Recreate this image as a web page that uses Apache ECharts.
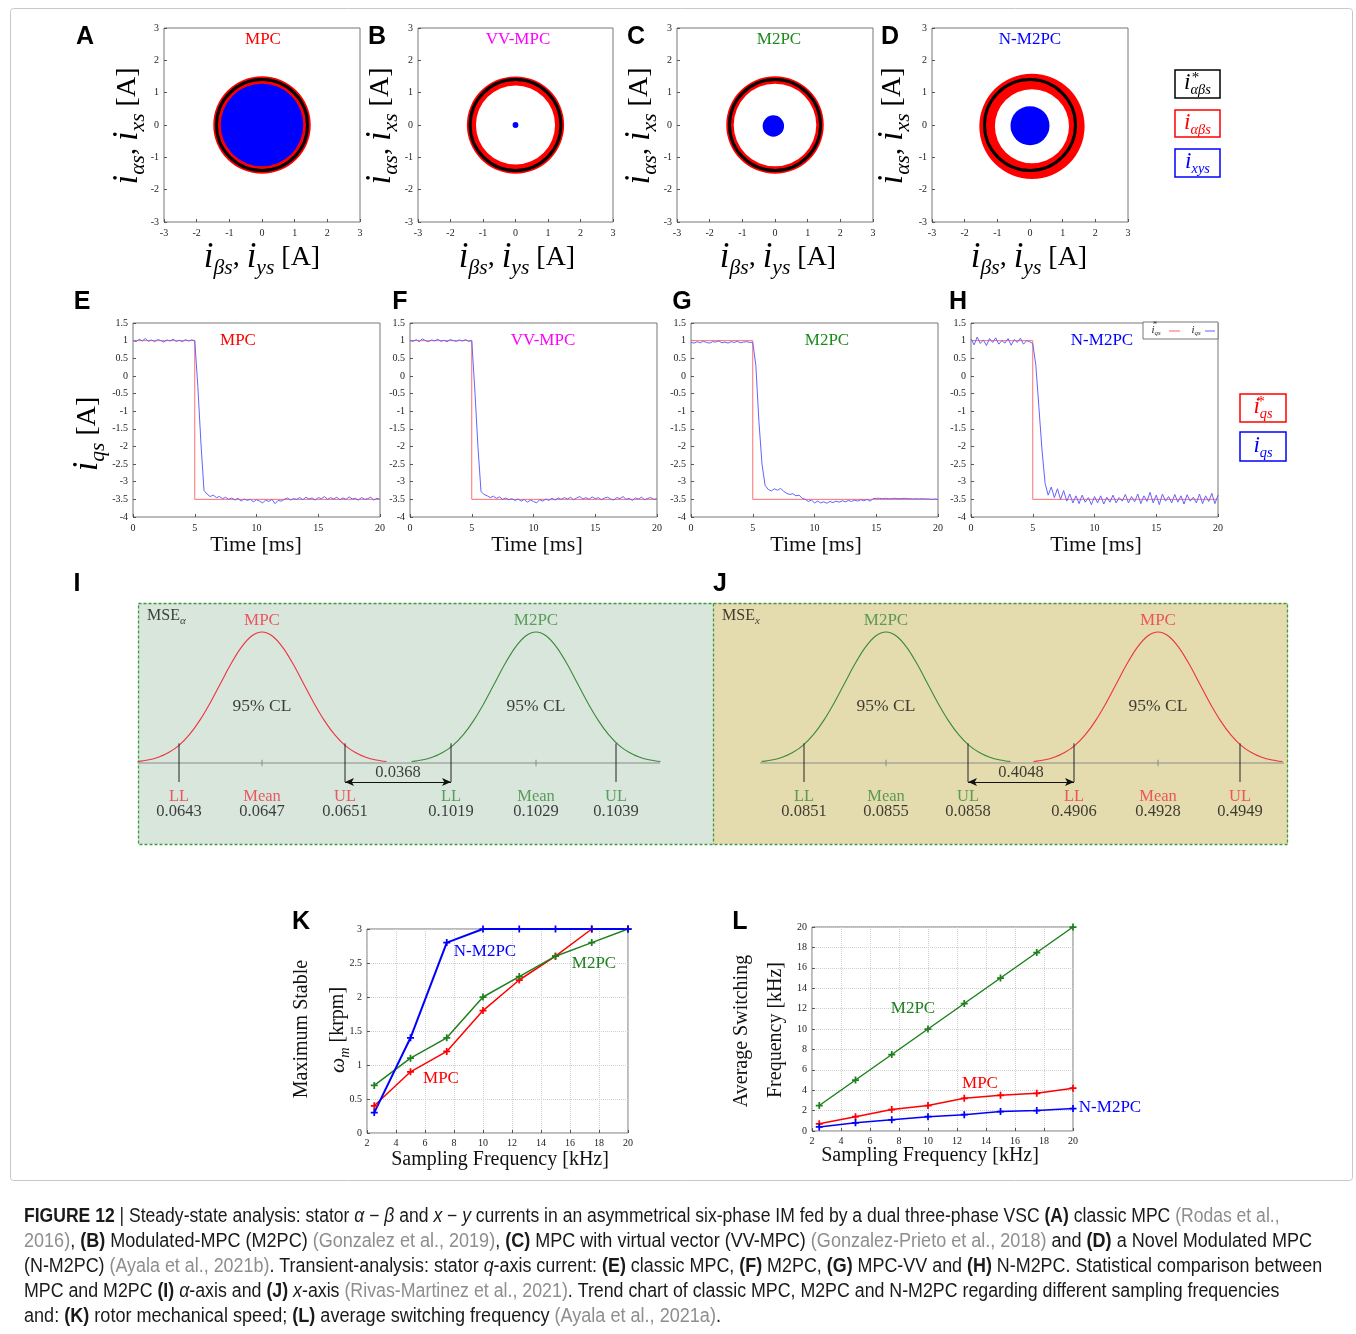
<!DOCTYPE html>
<html>
<head>
<meta charset="utf-8">
<script src="https://cdn.jsdelivr.net/npm/echarts@6/dist/echarts.min.js"></script>
<style>
html, body {margin: 0; padding: 0; background: #fff;}
#main {width: 1356px; height: 1334px;}
</style>
</head>
<body>
<div id="main"></div>
<script>
var SERIF = 'Liberation Serif', SANS = 'Liberation Sans';
var RED = '#ff0000', MAG = '#ff00ff', GRN = '#1a8a1a', BLU = '#0000ff';

// ---- A-D: steady state currents (values in A)
var topMethods = ['MPC', 'VV-MPC', 'M2PC', 'N-M2PC'];
var refRadius = 1.4;
// measured i_ab band: [cx, cy, inner radius, outer radius]
var abBand = [[0, 0, 1.24, 1.5], [0, 0, 1.22, 1.5], [0, 0, 1.27, 1.5], [0.06, -0.04, 1.14, 1.62]];
// measured i_xy cloud: [cx, cy, radius]
var xyBlob = [[0, 0, 1.27], [0, 0, 0.09], [-0.05, -0.03, 0.33], [0, -0.02, 0.6]];

// ---- E-H: q-axis current transient (ms, A)
var tMs = [0,0.25,0.5,0.75,1,1.25,1.5,1.75,2,2.25,2.5,2.75,3,3.25,3.5,3.75,4,4.25,4.5,4.75,
  5,5.25,5.5,5.75,6,6.25,6.5,6.75,7,7.25,7.5,7.75,8,8.25,8.5,8.75,9,9.25,9.5,9.75,10,
  10.25,10.5,10.75,11,11.25,11.5,11.75,12,12.25,12.5,12.75,13,13.25,13.5,13.75,14,
  14.25,14.5,14.75,15,15.25,15.5,15.75,16,16.25,16.5,16.75,17,17.25,17.5,17.75,18,
  18.25,18.5,18.75,19,19.25,19.5,19.75,20];
var refT = [0, 5, 5, 20];
var refIqs = [1, 1, -3.5, -3.5];
var iqsMPC = [1.0,0.97,1.04,0.99,1.06,0.98,1.02,0.97,1.03,1.0,0.96,1.02,0.99,1.04,0.98,1.01,0.97,1.03,0.99,1.02,
  1.0,-0.3,-1.9,-3.25,-3.35,-3.42,-3.38,-3.45,-3.42,-3.48,-3.44,-3.5,-3.46,
  -3.52,-3.47,-3.55,-3.49,-3.53,-3.5,-3.57,-3.51,-3.55,-3.6,-3.52,-3.56,-3.5,-3.62,-3.53,-3.55,
  -3.5,-3.46,-3.52,-3.48,-3.5,-3.45,-3.51,-3.44,-3.49,-3.46,-3.52,-3.45,-3.48,-3.42,-3.5,-3.45,
  -3.49,-3.44,-3.51,-3.46,-3.5,-3.43,-3.49,-3.47,-3.52,-3.45,-3.5,-3.48,-3.44,-3.52,-3.47,-3.5];
var iqsVVMPC = [1.0,0.98,1.03,0.97,1.05,1.0,0.97,1.02,0.99,1.04,0.98,1.01,0.97,1.03,1.0,0.98,1.02,0.99,1.03,0.98,
  1.0,-0.4,-2.0,-3.28,-3.36,-3.4,-3.45,-3.41,-3.47,-3.43,-3.5,-3.46,-3.51,
  -3.48,-3.53,-3.49,-3.55,-3.5,-3.58,-3.52,-3.56,-3.6,-3.51,-3.55,-3.49,-3.53,-3.47,-3.52,-3.46,
  -3.5,-3.45,-3.49,-3.44,-3.51,-3.46,-3.42,-3.49,-3.45,-3.5,-3.43,-3.48,-3.45,-3.51,-3.46,-3.44,
  -3.49,-3.52,-3.45,-3.48,-3.42,-3.5,-3.47,-3.53,-3.46,-3.49,-3.44,-3.51,-3.47,-3.45,-3.5,-3.48];
var iqsM2PC = [0.95,0.93,0.97,0.94,0.98,0.95,0.93,0.97,0.96,0.99,0.94,0.96,0.93,0.97,0.95,0.98,0.94,0.96,0.97,0.95,
  0.95,0.3,-1.3,-2.5,-3.1,-3.22,-3.26,-3.2,-3.24,-3.19,-3.27,-3.33,-3.36,
  -3.34,-3.4,-3.38,-3.47,-3.5,-3.56,-3.52,-3.6,-3.55,-3.6,-3.57,-3.61,-3.56,-3.59,-3.55,-3.58,
  -3.54,-3.57,-3.53,-3.56,-3.52,-3.55,-3.51,-3.54,-3.5,-3.55,-3.48,-3.47,-3.47,-3.48,-3.47,-3.48,
  -3.48,-3.47,-3.48,-3.48,-3.47,-3.48,-3.48,-3.49,-3.48,-3.49,-3.48,-3.49,-3.49,-3.5,-3.49,-3.5];
var iqsNM2PC = [1.05,0.88,1.1,0.92,1.02,0.86,1.06,0.95,1.08,0.9,1.0,0.93,1.06,0.87,1.03,0.95,1.07,0.9,1.0,0.97,
  0.92,0.3,-0.9,-2.1,-3.05,-3.38,-3.15,-3.45,-3.2,-3.5,-3.25,-3.55,-3.35,
  -3.6,-3.4,-3.62,-3.38,-3.58,-3.45,-3.65,-3.42,-3.6,-3.4,-3.63,-3.44,-3.58,-3.38,-3.6,-3.45,
  -3.55,-3.36,-3.6,-3.42,-3.57,-3.35,-3.62,-3.4,-3.56,-3.3,-3.6,-3.38,-3.65,-3.35,-3.55,-3.42,
  -3.6,-3.36,-3.58,-3.4,-3.63,-3.37,-3.55,-3.44,-3.6,-3.35,-3.62,-3.4,-3.56,-3.33,-3.62,-3.38];

// ---- I-J: statistical comparison (schematic positions along the panel)
var bellOff = [-3,-2.75,-2.5,-2.25,-2,-1.75,-1.5,-1.25,-1,-0.75,-0.5,-0.25,0,0.25,0.5,0.75,1,1.25,1.5,1.75,2,2.25,2.5,2.75,3];
var bellH = [0.011,0.023,0.044,0.08,0.135,0.216,0.325,0.458,0.607,0.755,0.882,0.969,1,0.969,0.882,0.755,0.607,0.458,0.325,0.216,0.135,0.08,0.044,0.023,0.011];
var bellSpread = 41.5;
var limitTags = ['LL', 'Mean', 'UL'];
var alphaMethods = ['MPC', 'M2PC'];
var alphaMean = [124, 398];
var alphaLimits = [[41, 207], [313, 478]];
var alphaVals = [['0.0643', '0.0647', '0.0651'], ['0.1019', '0.1029', '0.1039']];
var alphaGap = '0.0368';
var xMethods = ['M2PC', 'MPC'];
var xMean = [173, 445];
var xLimits = [[91, 255], [361, 527]];
var xVals = [['0.0851', '0.0855', '0.0858'], ['0.4906', '0.4928', '0.4949']];
var xGap = '0.4048';

// ---- K-L: sampling frequency trends (kHz)
var fs = [2.5, 5, 7.5, 10, 12.5, 15, 17.5, 20];
var speedMPC = [0.4, 0.9, 1.2, 1.8, 2.25, 2.6, 3.0, 3.0];
var speedM2PC = [0.7, 1.1, 1.4, 2.0, 2.3, 2.6, 2.8, 3.0];
var speedNM2PC = [0.3, 1.4, 2.8, 3.0, 3.0, 3.0, 3.0, 3.0];
var fswMPC = [0.7, 1.4, 2.1, 2.5, 3.2, 3.5, 3.7, 4.2];
var fswM2PC = [2.5, 5, 7.5, 10, 12.5, 15, 17.5, 20];
var fswNM2PC = [0.4, 0.8, 1.1, 1.4, 1.6, 1.9, 2.0, 2.2];

var captionLines = [
  '{b|FIGURE 12} | Steady-state analysis: stator {i|α} − {i|β} and {i|x} − {i|y} currents in an asymmetrical six-phase IM fed by a dual three-phase VSC {b|(A)} classic MPC {g|(Rodas et al.,}',
  '{g|2016)}, {b|(B)} Modulated-MPC (M2PC) {g|(Gonzalez et al., 2019)}, {b|(C)} MPC with virtual vector (VV-MPC) {g|(Gonzalez-Prieto et al., 2018)} and {b|(D)} a Novel Modulated MPC',
  '(N-M2PC) {g|(Ayala et al., 2021b)}. Transient-analysis: stator {i|q}-axis current: {b|(E)} classic MPC, {b|(F)} M2PC, {b|(G)} MPC-VV and {b|(H)} N-M2PC. Statistical comparison between',
  'MPC and M2PC {b|(I)} {i|α}-axis and {b|(J)} {i|x}-axis {g|(Rivas-Martinez et al., 2021)}. Trend chart of classic MPC, M2PC and N-M2PC regarding different sampling frequencies',
  'and: {b|(K)} rotor mechanical speed; {b|(L)} average switching frequency {g|(Ayala et al., 2021a)}.'
];

// ------------------------------------------------------------------
var grids = [
  {left: 164, top: 28, width: 196, height: 194},
  {left: 418, top: 28, width: 195, height: 194},
  {left: 677, top: 28, width: 196, height: 194},
  {left: 932, top: 28, width: 196, height: 194},
  {left: 133, top: 323, width: 247, height: 194},
  {left: 410, top: 323, width: 247, height: 194},
  {left: 691, top: 323, width: 247, height: 194},
  {left: 971, top: 323, width: 247, height: 194},
  {left: 138, top: 603, width: 575, height: 241},
  {left: 713, top: 603, width: 575, height: 241},
  {left: 367, top: 929, width: 261, height: 204},
  {left: 812, top: 927, width: 261, height: 204}
];
grids.forEach(function (g, i) {
  g.show = true;
  g.borderColor = '#777';
  g.borderWidth = 1;
  if (i === 8) { g.backgroundColor = '#d9e6dc'; g.borderWidth = 0; }
  if (i === 9) { g.backgroundColor = '#e4dcae'; g.borderWidth = 0; }
});

var xAxes = [], yAxes = [];
function frameAxis(gi, min, max, step, margin, grid) {
  return {
    type: 'value', gridIndex: gi, min: min, max: max, interval: step,
    axisLine: {show: false, onZero: false},
    axisTick: {show: true, inside: true, length: 3, lineStyle: {color: '#555'}},
    axisLabel: {fontFamily: SERIF, fontSize: 10, color: '#222', margin: margin},
    splitLine: {show: !!grid, lineStyle: {color: '#cfcfcf', type: 'dotted'}}
  };
}
for (var k = 0; k < 4; k++) {
  xAxes.push(frameAxis(k, -3, 3, 1, 6));
  yAxes.push(frameAxis(k, -3, 3, 1, 5));
}
for (k = 4; k < 8; k++) {
  xAxes.push(frameAxis(k, 0, 20, 5, 6));
  yAxes.push(frameAxis(k, -4, 1.5, 0.5, 5));
}
for (k = 8; k < 10; k++) {
  xAxes.push({type: 'value', gridIndex: k, min: 0, max: 575, show: false});
  yAxes.push({type: 'value', gridIndex: k, min: -0.618, max: 1.221, show: false});
}
xAxes.push(frameAxis(10, 2, 20, 2, 5, true));
yAxes.push(frameAxis(10, 0, 3, 0.5, 5, true));
xAxes.push(frameAxis(11, 2, 20, 2, 5, true));
yAxes.push(frameAxis(11, 0, 20, 2, 5, true));

// ------------------------------------------------------------------
function ringRender(color) {
  return function (params, api) {
    var c = api.coord([api.value(0), api.value(1)]);
    var a = api.size([api.value(2), api.value(2)]);
    var b = api.size([api.value(3), api.value(3)]);
    return {type: 'ring', shape: {cx: c[0], cy: c[1], r0: (a[0] + a[1]) / 2, r: (b[0] + b[1]) / 2},
      style: {fill: color}};
  };
}
function discRender(fill, stroke, lw) {
  return function (params, api) {
    var c = api.coord([api.value(0), api.value(1)]);
    var a = api.size([api.value(2), api.value(2)]);
    return {type: 'circle', shape: {cx: c[0], cy: c[1], r: (a[0] + a[1]) / 2},
      style: {fill: fill, stroke: stroke || null, lineWidth: lw || 0}};
  };
}
function vlineRender(color) {
  return function (params, api) {
    var p0 = api.coord([api.value(0), api.value(1)]);
    var p1 = api.coord([api.value(0), api.value(2)]);
    return {type: 'line', shape: {x1: p0[0], y1: p0[1], x2: p1[0], y2: p1[1]},
      style: {stroke: color, lineWidth: 1}};
  };
}
function pairs(xs, ys) { return xs.map(function (x, i) { return [x, ys[i]]; }); }

var series = [];
for (k = 0; k < 4; k++) {
  series.push({type: 'custom', xAxisIndex: k, yAxisIndex: k, silent: true, z: 2,
    data: [abBand[k]], renderItem: ringRender(RED)});
  series.push({type: 'custom', xAxisIndex: k, yAxisIndex: k, silent: true, z: 3,
    data: [xyBlob[k]], renderItem: discRender(BLU)});
  series.push({type: 'custom', xAxisIndex: k, yAxisIndex: k, silent: true, z: 4,
    data: [[0, 0, refRadius]], renderItem: discRender('none', '#000', 3)});
}

var iqsAll = [iqsMPC, iqsVVMPC, iqsM2PC, iqsNM2PC];
for (k = 0; k < 4; k++) {
  series.push({type: 'line', xAxisIndex: 4 + k, yAxisIndex: 4 + k, symbol: 'none', silent: true,
    data: pairs(refT, refIqs), lineStyle: {color: '#ff7070', width: 1}});
  series.push({type: 'line', xAxisIndex: 4 + k, yAxisIndex: 4 + k, symbol: 'none', silent: true,
    data: pairs(tMs, iqsAll[k]), lineStyle: {color: '#6363ff', width: 1}});
}

function textSeries(gi, pts, texts, label) {
  var lab = {show: true, position: 'inside', fontFamily: SERIF, fontSize: 16.5, color: '#111',
    formatter: function (p) { return texts[p.dataIndex]; }};
  for (var key in label) lab[key] = label[key];
  return {type: 'scatter', xAxisIndex: gi, yAxisIndex: gi, symbolSize: 0, silent: true, z: 6,
    data: pts, label: lab, labelLayout: {hideOverlap: false}};
}

function statPanel(gi, methods, means, limits, vals, gap, colors, msePart, baseRange) {
  series.push({type: 'line', xAxisIndex: gi, yAxisIndex: gi, symbol: 'none', silent: true,
    data: [[baseRange[0], 0], [baseRange[1], 0]], lineStyle: {color: '#8a8a8a', width: 1}});
  for (var m = 0; m < 2; m++) {
    var c = means[m];
    series.push({type: 'line', xAxisIndex: gi, yAxisIndex: gi, symbol: 'none', silent: true, smooth: 0.3,
      data: bellOff.map(function (o, i) { return [c + o * bellSpread, bellH[i]]; }),
      lineStyle: {color: colors[m], width: 1.1}});
    series.push({type: 'custom', xAxisIndex: gi, yAxisIndex: gi, silent: true, z: 4,
      data: [[limits[m][0], 0.15, -0.145], [limits[m][1], 0.15, -0.145]], renderItem: vlineRender('#222')});
    series.push({type: 'custom', xAxisIndex: gi, yAxisIndex: gi, silent: true, z: 4,
      data: [[c, 0.025, -0.025]], renderItem: vlineRender('#8a8a8a')});
    var pos = [limits[m][0], c, limits[m][1]];
    series.push(textSeries(gi, pos.map(function (x) { return [x, -0.317]; }),
      limitTags.map(function (t, i) { return '{c|' + t + '}\n{v|' + vals[m][i] + '}'; }),
      {lineHeight: 15, rich: {c: {color: colors[m], fontFamily: SERIF, fontSize: 16.5, lineHeight: 15},
        v: {color: '#111', fontFamily: SERIF, fontSize: 16.5, lineHeight: 15}}}));
    series.push(textSeries(gi, [[c, 1.09]], [methods[m]], {color: colors[m], fontSize: 17}));
    series.push(textSeries(gi, [[c, 0.435]], ['95% CL'], {fontSize: 17.5}));
  }
  var a = limits[0][1], b = limits[1][0];
  var gs = textSeries(gi, [[(a + b) / 2, -0.075]], [gap], {});
  gs.markLine = {silent: true, symbol: ['arrow', 'arrow'], symbolSize: [6, 9],
    lineStyle: {color: '#111', type: 'solid', width: 1}, label: {show: false},
    data: [[{coord: [a, -0.145]}, {coord: [b, -0.145]}]]};
  series.push(gs);
  series.push(textSeries(gi, [[9, 1.12]], ['{m|MSE}{s|' + msePart + '}'], {position: 'right', distance: 0,
    rich: {m: {fontFamily: SERIF, fontSize: 16, color: '#111', lineHeight: 20, verticalAlign: 'middle'},
      s: {fontFamily: SERIF, fontStyle: 'italic', fontSize: 11, color: '#111', lineHeight: 10, verticalAlign: 'bottom'}}}));
}
statPanel(8, alphaMethods, alphaMean, alphaLimits, alphaVals, alphaGap, ['#ee3340', '#3a8a3a'], 'α', [1, 522]);
statPanel(9, xMethods, xMean, xLimits, xVals, xGap, ['#3a8a3a', '#ee3340'], 'x', [47, 571]);

var plus = 'path://M3,0h2v3h3v2h-3v3h-2v-3h-3v-2h3z';
function trend(gi, ys, color, w) {
  series.push({type: 'line', xAxisIndex: gi, yAxisIndex: gi, symbol: plus, symbolSize: 7, silent: true,
    data: pairs(fs, ys), lineStyle: {color: color, width: w}, itemStyle: {color: color}});
}
trend(10, speedMPC, RED, 1.5);
trend(10, speedM2PC, '#1f801f', 1.5);
trend(10, speedNM2PC, BLU, 2);
trend(11, fswMPC, RED, 1.5);
trend(11, fswNM2PC, BLU, 1.5);
trend(11, fswM2PC, '#1f801f', 1.5);

// ------------------------------------------------------------------
function mathRich(color, s, n) {
  s = s || 1;
  var nf = n || 25 * s;
  return {
    i: {fontFamily: SERIF, fontStyle: 'italic', fontSize: 29 * s, lineHeight: 36 * s, verticalAlign: 'middle', fill: color, color: color},
    s: {fontFamily: SERIF, fontStyle: 'italic', fontSize: 18 * s, lineHeight: 18 * s, verticalAlign: 'bottom', fill: color, color: color},
    n: {fontFamily: SERIF, fontSize: nf, lineHeight: 36 * s, verticalAlign: 'middle', fill: color, color: color},
    w: {fontFamily: SERIF, fontStyle: 'italic', fontSize: 27 * s, lineHeight: 36 * s, verticalAlign: 'middle', fill: color, color: color}
  };
}
var gfx = [];
function txt(x, y, text, font, color, opt) {
  var el = {type: 'text', x: x, y: y, z: 100, silent: true,
    style: {text: text, font: font, fill: color || '#000', textAlign: 'center', textVerticalAlign: 'middle',
      align: 'center', verticalAlign: 'middle'}};
  if (opt) {
    if (opt.rotation) el.rotation = opt.rotation;
    if (opt.rich) el.style.rich = opt.rich;
    if (opt.align) { el.style.textAlign = opt.align; el.style.align = opt.align; }
    if (opt.scaleX) el.scaleX = opt.scaleX;
  }
  gfx.push(el);
}
var letterFont = 'bold 25px "' + SANS + '"';
[['A', 85, 37], ['B', 377, 37], ['C', 636, 37], ['D', 890, 37], ['E', 82, 302], ['F', 400, 302],
 ['G', 682, 302], ['H', 958, 302], ['I', 77, 584], ['J', 720, 584], ['K', 301, 922], ['L', 740, 922]]
  .forEach(function (l) { txt(l[1], l[2], l[0], letterFont, '#000'); });

var topColors = [RED, MAG, GRN, BLU];
var topX = [263, 518, 779, 1030];
var yNameX = [128, 381, 640, 893];
var trX = [238, 543, 827, 1102];
var timeX = [256, 537, 816, 1096];
var nameRich = mathRich('#000', 1.2, 28);
for (k = 0; k < 4; k++) {
  txt(topX[k], 40, topMethods[k], '17px "' + SERIF + '"', topColors[k]);
  txt(yNameX[k], 126, '{i|i}{s|αs}{n|, }{i|i}{s|xs}{n| [A]}', '25px "' + SERIF + '"', '#000',
    {rotation: Math.PI / 2, rich: nameRich});
  txt(topX[k] - 1, 258, '{i|i}{s|βs}{n|, }{i|i}{s|ys}{n| [A]}', '25px "' + SERIF + '"', '#000',
    {rich: nameRich});
  txt(trX[k], 341, topMethods[k], '17px "' + SERIF + '"', topColors[k]);
  txt(timeX[k], 545, 'Time [ms]', '22px "' + SERIF + '"', '#111');
}
txt(88, 434, '{i|i}{s|qs}{n| [A]}', '25px "' + SERIF + '"', '#000', {rotation: Math.PI / 2, rich: nameRich});

// legend boxes
function legendBox(x, y, w, h, color, sub, star) {
  gfx.push({type: 'rect', z: 100, silent: true, shape: {x: x, y: y, width: w, height: h},
    style: {fill: '#fff', stroke: color, lineWidth: 1.5}});
  txt(x + w / 2, y + h / 2 - 1, '{i|i}{s|' + sub + '}', '20px "' + SERIF + '"', color, {rich: mathRich(color, 0.8)});
  if (star) txt(x + w / 2 - 2, y + 8, '*', '15px "' + SERIF + '"', color);
}
legendBox(1175, 70, 45, 28, '#000', 'αβs', true);
legendBox(1175, 110, 45, 27, RED, 'αβs', false);
legendBox(1175, 149, 45, 28, BLU, 'xys', false);
legendBox(1240, 394, 46, 28, RED, 'qs', true);
legendBox(1240, 432, 46, 29, BLU, 'qs', false);

// small legend inside H
gfx.push({type: 'rect', z: 100, silent: true, shape: {x: 1143, y: 322, width: 75, height: 17},
  style: {fill: '#fff', stroke: '#777', lineWidth: 1}});
txt(1156, 330, '{i|i}{s|qs}', '11px "' + SERIF + '"', '#222', {rich: mathRich('#222', 0.38)});
txt(1155, 325, '*', '8px "' + SERIF + '"', '#222');
gfx.push({type: 'line', z: 100, silent: true, shape: {x1: 1169, y1: 331, x2: 1180, y2: 331}, style: {stroke: '#ff6060', lineWidth: 1}});
txt(1196, 330, '{i|i}{s|qs}', '11px "' + SERIF + '"', '#222', {rich: mathRich('#222', 0.38)});
gfx.push({type: 'line', z: 100, silent: true, shape: {x1: 1205, y1: 331, x2: 1215, y2: 331}, style: {stroke: '#6060ff', lineWidth: 1}});

// I-J dashed frame
gfx.push({type: 'rect', z: 100, silent: true, shape: {x: 138.5, y: 603.5, width: 1149, height: 241},
  style: {fill: 'none', stroke: '#3f9a3f', lineWidth: 1.3, lineDash: [3, 2]}});
gfx.push({type: 'line', z: 100, silent: true, shape: {x1: 713.5, y1: 603.5, x2: 713.5, y2: 844.5},
  style: {stroke: '#3f9a3f', lineWidth: 1.3, lineDash: [3, 2]}});

// K-L labels
var lab17 = '17px "' + SERIF + '"';
txt(485, 952, 'N-M2PC', lab17, BLU);
txt(594, 964, 'M2PC', lab17, '#1f801f');
txt(441, 1079, 'MPC', lab17, RED);
txt(913, 1009, 'M2PC', lab17, '#1f801f');
txt(980, 1084, 'MPC', lab17, RED);
txt(1110, 1108, 'N-M2PC', lab17, BLU);
var axF = '20px "' + SERIF + '"';
txt(500, 1160, 'Sampling Frequency [kHz]', axF, '#111');
txt(930, 1156, 'Sampling Frequency [kHz]', axF, '#111');
txt(302, 1029, 'Maximum Stable', axF, '#111', {rotation: Math.PI / 2});
txt(338, 1030, '{w|ω}{s|m}{n| [krpm]}', axF, '#111', {rotation: Math.PI / 2, rich: mathRich('#111', 0.8)});
txt(742, 1031, 'Average Switching', axF, '#111', {rotation: Math.PI / 2});
txt(776, 1030, 'Frequency [kHz]', axF, '#111', {rotation: Math.PI / 2});

// outer frame
gfx.push({type: 'rect', z: 1, silent: true, shape: {x: 10.5, y: 8.5, width: 1342, height: 1172, r: 3},
  style: {fill: 'none', stroke: '#c8c8c8', lineWidth: 1}});

// caption
var capRich = {
  b: {fontFamily: SANS, fontWeight: 'bold', fontSize: 19.5, fill: '#1a1a1a', color: '#1a1a1a'},
  g: {fontFamily: SANS, fontSize: 19.5, fill: '#8e8e8e', color: '#8e8e8e'},
  i: {fontFamily: SANS, fontStyle: 'italic', fontSize: 19.5, fill: '#1a1a1a', color: '#1a1a1a'}
};
var capScale = [0.9, 0.925, 0.918, 0.912, 0.927];
captionLines.forEach(function (line, i) {
  txt(24, 1217 + i * 25, line, '19.5px "' + SANS + '"', '#1a1a1a', {align: 'left', rich: capRich, scaleX: capScale[i]});
});

var chart = echarts.init(document.getElementById('main'), null, {renderer: 'canvas'});
chart.setOption({
  backgroundColor: '#fff',
  animation: false,
  textStyle: {fontFamily: SERIF},
  grid: grids,
  xAxis: xAxes,
  yAxis: yAxes,
  series: series,
  graphic: {elements: gfx}
});
</script>
</body>
</html>
